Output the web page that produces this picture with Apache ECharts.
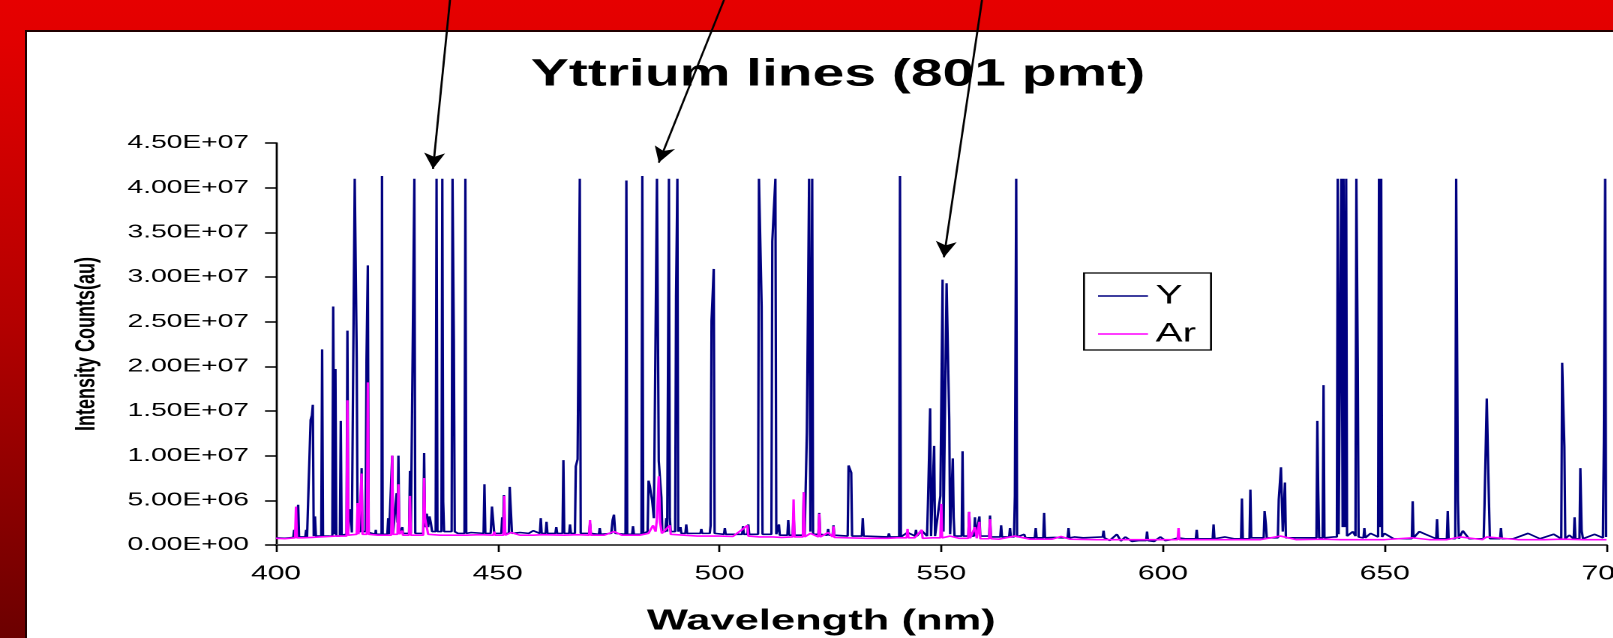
<!DOCTYPE html>
<html>
<head>
<meta charset="utf-8">
<title>Yttrium lines (801 pmt)</title>
<script src="https://cdn.jsdelivr.net/npm/echarts@6/dist/echarts.min.js"></script>
<style>
  html, body { margin: 0; padding: 0; width: 1613px; height: 638px; overflow: hidden; }
  body { position: relative; background: linear-gradient(to bottom, #e60000 0%, #e20000 6%, #b40000 50%, #6c0000 100%); }
  #panel { position: absolute; left: 25px; top: 30px; right: 0; bottom: 0; background: #fff;
           border-top: 2px solid #200000; border-left: 2px solid #200000; }
  /* the slide stretched the figure sideways, so draw narrow and scale it out */
  #chart { position: absolute; left: 0; top: 0; width: 1075.333px; height: 638px;
           transform: scaleX(1.5); transform-origin: 0 0; }
</style>
</head>
<body>
<div id="panel"></div>
<div id="chart"></div>
<script>
var S = 1.5;
var FONT = "'Liberation Sans', Arial, sans-serif";

// wavelength (nm) / intensity (counts, millions)
var yWavelength = [
  400.0, 402.0, 403.9, 404.1, 404.3, 404.8, 405.0, 405.2, 406.6, 406.8, 407.0, 407.6, 407.8, 408.1, 408.3, 408.5,
  408.8, 409.0, 410.2, 410.4, 410.6, 412.7, 412.9, 413.2, 413.4, 413.6, 414.4, 414.6, 414.8, 415.9, 416.1, 416.3,
  416.6, 416.9, 417.1, 417.6, 417.75, 418.2, 418.4, 419.1, 419.3, 419.5, 420.2, 420.4, 420.7, 420.9, 422.4, 422.5,
  422.6, 423.8, 423.9, 424.05, 425.1, 425.3, 425.5, 426.0, 426.2, 426.4, 427.0, 427.2, 427.4, 427.6, 427.8, 428.4,
  428.5, 428.6, 430.0, 430.2, 430.4, 431.0, 431.2, 431.4, 432.0, 433.2, 433.4, 433.6, 434.0, 434.3, 434.6, 434.9,
  435.2, 436.0, 436.2, 436.4, 437.3, 437.5, 437.7, 437.9, 439.6, 439.8, 440.1, 440.3, 441.0, 442.5, 442.7, 442.9,
  444.0, 446.8, 447.0, 447.2, 448.4, 448.7, 449.0, 449.2, 450.8, 451.0, 451.2, 451.4, 451.6, 452.5, 452.7, 453.0,
  453.2, 455.0, 457.0, 458.0, 459.5, 459.7, 459.9, 460.8, 461.0, 461.2, 463.0, 463.2, 463.4, 464.6, 464.8, 465.0,
  466.1, 466.3, 466.5, 467.4, 467.6, 468.0, 468.5, 468.7, 470.6, 470.8, 471.0, 472.8, 473.0, 473.2, 475.6, 475.9,
  476.2, 476.5, 478.8, 479.0, 479.2, 480.3, 480.5, 480.7, 482.4, 482.6, 482.8, 483.8, 484.0, 484.3, 484.5, 484.8,
  485.2, 485.6, 485.9, 486.3, 486.9, 487.1, 487.8, 488.0, 488.2, 488.4, 488.6, 488.8, 489.0, 490.0, 490.2, 490.5,
  490.7, 491.2, 491.4, 492.3, 492.5, 492.7, 495.7, 495.9, 496.1, 497.8, 498.0, 498.2, 498.7, 498.9, 501.0, 501.2,
  501.4, 505.1, 505.3, 505.5, 506.3, 506.5, 506.7, 508.7, 508.9, 509.5, 509.7, 511.7, 511.9, 512.6, 512.8, 513.4,
  513.6, 515.3, 515.5, 515.7, 516.5, 516.7, 516.9, 518.8, 519.0, 519.2, 519.5, 519.7, 520.2, 520.5, 520.9, 521.1,
  522.3, 522.5, 522.7, 524.3, 524.5, 524.7, 525.5, 525.7, 525.9, 528.9, 529.1, 529.7, 529.9, 532.1, 532.3, 532.5,
  538.0, 538.2, 538.4, 540.5, 540.7, 540.9, 542.4, 544.1, 544.3, 544.5, 545.6, 546.8, 547.0, 547.5, 547.7, 548.2,
  548.4, 548.6, 549.8, 550.3, 550.5, 551.0, 551.2, 551.8, 552.0, 552.4, 552.6, 552.8, 553.0, 554.6, 554.8, 555.0,
  556.1, 556.3, 556.5, 557.4, 557.6, 557.8, 558.4, 558.6, 558.8, 560.8, 561.0, 561.2, 563.3, 563.5, 563.7, 565.3,
  565.5, 565.7, 566.4, 566.6, 566.9, 567.1, 568.7, 569.0, 571.1, 571.3, 571.5, 573.0, 573.2, 573.4, 575.5, 577.0,
  578.5, 578.7, 578.9, 580.0, 582.0, 586.4, 586.6, 586.8, 588.0, 589.6, 590.5, 591.5, 593.0, 594.5, 596.2, 596.4,
  596.6, 598.0, 599.4, 600.5, 602.0, 603.5, 605.0, 607.4, 607.6, 607.8, 611.2, 611.4, 611.6, 614.0, 616.0, 617.6,
  617.8, 618.0, 619.5, 619.7, 619.9, 622.7, 622.9, 623.2, 623.4, 625.9, 626.1, 626.6, 627.0, 627.5, 627.7, 630.0,
  634.6, 634.8, 635.0, 635.2, 636.0, 636.2, 636.4, 638.5, 639.2, 639.4, 639.6, 640.0, 640.2, 640.5, 640.7, 641.0,
  641.3, 641.5, 642.8, 643.4, 643.6, 643.9, 644.1, 645.2, 645.4, 645.6, 646.8, 648.5, 648.7, 648.95, 649.2, 649.4,
  649.9, 652.0, 656.1, 656.3, 656.5, 657.8, 659.2, 661.6, 661.8, 662.0, 664.0, 664.2, 664.4, 665.9, 666.1, 666.5,
  666.7, 667.6, 669.0, 672.3, 672.5, 673.0, 673.5, 673.7, 676.0, 676.2, 676.4, 679.0, 682.3, 685.0, 688.1, 689.8,
  690.0, 690.5, 690.7, 691.6, 692.6, 692.8, 693.0, 693.9, 694.1, 694.4, 694.7, 697.3, 699.2, 699.4, 699.7, 699.9
];
var yCounts = [
  0.80, 0.75, 0.85, 1.7, 0.9, 0.9, 4.5, 0.9, 0.9, 1.7, 0.9, 1.0, 14.0, 14.5, 15.7, 1.0,
  3.2, 1.0, 1.0, 21.9, 1.0, 1.0, 26.7, 1.2, 19.7, 1.0, 1.0, 13.9, 1.1, 1.2, 24.0, 1.5,
  4.0, 3.5, 1.4, 1.5, 41.0, 21.0, 1.5, 1.5, 8.6, 1.5, 1.5, 20.6, 31.3, 1.4, 1.2, 1.7,
  1.2, 1.2, 41.3, 1.2, 1.2, 3.0, 1.2, 1.2, 10.0, 1.3, 1.3, 5.8, 2.5, 10.0, 1.3, 1.3,
  2.0, 1.3, 1.3, 8.3, 1.3, 1.3, 41.0, 1.3, 1.4, 1.3, 10.3, 2.0, 3.5, 2.0, 3.2, 2.5,
  1.5, 1.5, 41.0, 1.5, 1.5, 41.0, 4.8, 1.5, 1.5, 41.0, 23.0, 1.5, 1.3, 1.3, 41.0, 1.3,
  1.4, 1.3, 6.8, 1.3, 1.3, 4.3, 4.2, 1.3, 1.3, 3.1, 1.3, 5.6, 1.3, 1.3, 6.5, 6.3,
  1.3, 1.4, 1.3, 1.6, 1.3, 3.0, 1.3, 1.3, 2.6, 1.3, 1.3, 2.0, 1.3, 1.3, 9.5, 1.3,
  1.3, 2.3, 1.3, 1.3, 8.8, 9.6, 41.0, 1.3, 1.3, 2.4, 1.3, 1.2, 1.9, 1.2, 1.3, 2.8,
  3.4, 1.3, 1.2, 40.8, 1.2, 1.2, 2.1, 1.2, 1.2, 41.3, 1.3, 1.5, 7.2, 6.6, 5.9, 5.0,
  3.0, 3.0, 41.0, 9.4, 5.3, 1.5, 1.5, 3.0, 1.5, 1.5, 41.0, 3.0, 1.5, 1.5, 27.8, 41.0,
  1.5, 2.0, 1.3, 1.3, 2.3, 1.3, 1.3, 1.8, 1.3, 1.3, 2.2, 25.1, 30.9, 1.3, 1.2, 1.9,
  1.2, 1.2, 2.1, 1.2, 1.2, 2.3, 1.2, 1.2, 41.0, 26.7, 1.2, 1.2, 34.0, 41.0, 1.2, 2.3,
  1.1, 1.1, 2.8, 1.1, 1.1, 3.5, 1.1, 1.1, 5.9, 1.1, 1.2, 12.6, 41.0, 1.5, 41.0, 1.2,
  1.2, 3.6, 1.2, 1.1, 1.8, 1.1, 1.1, 2.2, 1.1, 1.0, 8.9, 8.1, 1.0, 1.0, 3.0, 1.0,
  0.9, 1.3, 0.9, 0.9, 41.3, 0.9, 1.4, 1.0, 1.7, 1.0, 1.6, 1.0, 4.7, 15.3, 1.0, 1.0,
  11.1, 1.0, 5.5, 29.7, 1.5, 1.5, 29.3, 14.0, 1.2, 1.2, 9.7, 3.1, 1.0, 1.0, 10.5, 1.0,
  1.0, 3.7, 1.0, 1.0, 3.1, 1.0, 1.0, 3.2, 1.0, 1.0, 3.3, 0.9, 0.9, 2.2, 0.9, 0.9,
  1.9, 0.9, 0.9, 5.5, 41.0, 0.9, 1.2, 0.8, 0.8, 1.9, 0.8, 0.8, 3.6, 0.8, 0.85, 0.8,
  0.8, 1.9, 0.8, 0.9, 0.8, 0.9, 1.6, 0.8, 0.5, 1.2, 0.45, 0.9, 0.4, 0.5, 0.5, 1.5,
  0.5, 0.4, 0.9, 0.5, 0.6, 0.8, 0.7, 0.7, 1.7, 0.7, 0.7, 2.3, 0.7, 0.9, 0.7, 0.7,
  5.2, 0.7, 0.7, 6.2, 0.8, 0.8, 3.8, 2.3, 0.8, 0.8, 5.1, 8.7, 1.5, 7.0, 0.8, 0.8,
  0.8, 13.9, 6.0, 0.8, 0.8, 17.9, 0.8, 0.9, 0.9, 41.0, 1.2, 1.2, 41.0, 2.0, 41.0, 2.0,
  41.0, 1.0, 1.5, 1.0, 41.0, 21.0, 0.9, 0.8, 1.9, 0.8, 1.3, 0.9, 41.0, 2.0, 41.0, 0.9,
  1.3, 0.7, 0.7, 4.9, 0.8, 1.5, 1.2, 0.7, 2.9, 0.7, 0.7, 3.8, 0.7, 0.7, 41.0, 5.0,
  0.7, 1.6, 0.7, 0.7, 4.6, 16.4, 4.7, 0.7, 0.7, 1.9, 0.7, 0.7, 1.3, 0.7, 1.2, 0.7,
  20.4, 11.0, 0.7, 1.1, 0.7, 3.1, 0.7, 0.7, 8.6, 1.6, 0.7, 1.2, 0.8, 11.6, 41.0, 0.9
];

var arWavelength = [
  400.0, 402.0, 404.3, 404.5, 404.7, 406.0, 408.0, 410.0, 412.0, 413.5, 415.9, 416.1, 416.3, 418.2, 418.4, 418.6,
  419.1, 419.3, 419.5, 420.5, 420.7, 420.9, 423.0, 425.0, 426.0, 426.2, 426.4, 427.4, 427.6, 427.8, 428.4, 428.5,
  428.6, 430.0, 430.2, 430.4, 433.2, 433.4, 433.6, 434.0, 434.3, 437.0, 440.0, 443.0, 446.0, 449.0, 449.2, 449.4,
  451.3, 451.5, 451.7, 453.0, 455.0, 458.0, 460.0, 465.0, 468.0, 470.6, 470.8, 471.0, 474.0, 476.2, 478.0, 482.0,
  484.0, 485.0, 485.6, 485.9, 486.3, 486.6, 487.0, 488.8, 489.0, 492.0, 495.0, 500.0, 503.0, 505.3, 506.3, 506.5,
  509.0, 512.0, 514.0, 516.5, 516.7, 516.9, 518.8, 519.0, 519.2, 520.5, 522.3, 522.5, 522.7, 524.5, 525.5, 525.7,
  525.9, 529.0, 533.0, 538.0, 540.0, 542.2, 542.4, 542.6, 544.0, 545.6, 545.8, 548.0, 549.8, 550.0, 550.2, 552.0,
  554.0, 556.1, 556.3, 556.5, 557.6, 558.0, 558.6, 558.8, 560.8, 561.0, 561.2, 563.0, 566.6, 570.0, 575.0, 577.0,
  579.0, 585.0, 590.0, 595.0, 600.0, 603.3, 603.5, 603.7, 607.0, 612.0, 618.0, 622.0, 626.5, 630.0, 636.0, 640.0,
  645.0, 650.0, 656.3, 660.0, 664.0, 667.0, 672.0, 673.0, 680.0, 686.0, 690.0, 695.0, 700.0
];
var arCounts = [
  0.75, 0.7, 0.8, 4.3, 0.8, 0.8, 0.85, 0.9, 0.95, 1.0, 1.0, 16.2, 1.1, 1.2, 4.7, 1.2,
  1.2, 8.0, 1.2, 1.2, 18.2, 1.2, 1.1, 1.1, 1.1, 10.0, 1.2, 1.2, 6.8, 1.2, 1.2, 1.6,
  1.1, 1.1, 5.5, 1.1, 1.1, 7.5, 3.0, 2.0, 1.2, 1.1, 1.1, 1.1, 1.15, 1.1, 1.5, 1.1,
  1.1, 5.5, 1.1, 1.4, 1.1, 1.1, 1.15, 1.1, 1.15, 1.1, 2.8, 1.1, 1.1, 1.5, 1.1, 1.1,
  1.3, 2.2, 1.5, 3.0, 7.7, 2.5, 1.3, 2.2, 1.2, 1.1, 1.0, 1.0, 0.95, 1.8, 2.2, 1.0,
  0.9, 0.9, 0.85, 0.9, 5.1, 0.9, 0.9, 5.9, 0.9, 1.3, 0.9, 3.5, 0.9, 1.4, 0.9, 2.1,
  0.85, 0.8, 0.75, 0.75, 0.8, 0.8, 1.8, 0.8, 0.8, 1.7, 0.75, 0.8, 0.8, 4.6, 0.8, 1.0,
  0.75, 0.75, 3.7, 0.75, 2.0, 0.75, 2.6, 0.7, 0.7, 2.9, 0.7, 0.65, 1.0, 0.65, 0.65, 0.95,
  0.65, 0.6, 0.6, 0.6, 0.6, 0.6, 1.9, 0.6, 0.6, 0.6, 0.6, 0.6, 1.0, 0.6, 0.65, 0.6,
  0.6, 0.6, 0.8, 0.6, 0.6, 0.9, 0.6, 0.9, 0.6, 0.6, 0.65, 0.6, 0.6
];

var seriesNames = ['Y', 'Ar'];

// arrows: where they leave the top edge (px) and the line they point at
var arrowTopX = [450, 724, 982];
var arrowWavelength = [435.4, 486.3, 550.6];
var arrowCounts = [42.1, 42.8, 32.2];

function pairs(xs, ys) {
  return xs.map(function (x, i) { return [x, ys[i]]; });
}

// 4.5e7 -> "4.50E+07"
function sci(v) {
  var n = v * 1e6;
  if (n === 0) return '0.00E+00';
  var e = Math.floor(Math.log10(n) + 1e-9);
  var m = n / Math.pow(10, e);
  return m.toFixed(2) + 'E+' + String(e).padStart(2, '0');
}

var arrows = arrowTopX.map(function (x, i) {
  return [{ x: x / S, y: 0 }, { coord: [arrowWavelength[i], arrowCounts[i]] }];
});

var chart = echarts.init(document.getElementById('chart'), null, { renderer: 'canvas', devicePixelRatio: 2 });
chart.setOption({
  animation: false,
  backgroundColor: 'transparent',
  grid: { left: 276 / S, right: 6 / S, top: 143, bottom: 93, containLabel: false, outerBoundsMode: 'none' },
  legend: {
    orient: 'vertical',
    left: 1084 / S,
    top: 273,
    selectedMode: false,
    backgroundColor: '#fff',
    borderColor: '#000',
    borderWidth: 1.3,
    borderRadius: 0,
    padding: [9, 10, 2, 14 / S],
    itemGap: 10,
    itemWidth: 50 / S,
    itemHeight: 1.6,
    textStyle: { fontFamily: FONT, fontSize: 27, color: '#000', lineHeight: 28 },
    data: seriesNames.map(function (n) { return { name: n, icon: 'rect' }; })
  },
  graphic: [{
    type: 'text',
    x: 838 / S,
    y: 75,
    style: {
      text: 'Yttrium lines (801 pmt)',
      fontFamily: FONT, fontWeight: 'bold', fontSize: 38, fill: '#000',
      align: 'center', verticalAlign: 'middle'
    }
  }],
  xAxis: {
    type: 'value',
    min: 400, max: 700, interval: 50,
    name: 'Wavelength (nm)',
    nameLocation: 'middle',
    nameGap: 62,
    nameTextStyle: { fontFamily: FONT, fontWeight: 'bold', fontSize: 29, color: '#000', padding: [0, 160, 0, 0] },
    axisLine: { show: true, onZero: false, lineStyle: { color: '#4d4d4d', width: 2 } },
    axisTick: { show: true, inside: false, length: 7, lineStyle: { color: '#000', width: 1.35 } },
    axisLabel: { show: true, margin: 19, fontFamily: FONT, fontSize: 20, color: '#000', showMaxLabel: true, showMinLabel: true },
    splitLine: { show: false }
  },
  yAxis: {
    type: 'value',
    min: 0, max: 45, interval: 5,
    name: 'Intensity Counts(au)',
    nameLocation: 'middle',
    nameRotate: 90,
    nameGap: 117,
    nameMoveOverlap: false,
    nameTextStyle: { fontFamily: FONT, fontWeight: 'bold', fontSize: 18, color: '#000' },
    axisLine: { show: true, lineStyle: { color: '#000', width: 1.4 } },
    axisTick: { show: true, inside: false, length: 11 / S, lineStyle: { color: '#000', width: 1.5 } },
    axisLabel: { show: true, margin: 18, fontFamily: FONT, fontSize: 18.8, color: '#000', formatter: sci },
    splitLine: { show: false }
  },
  series: [{
    name: 'Y',
    type: 'line',
    data: pairs(yWavelength, yCounts),
    showSymbol: false,
    symbol: 'none',
    clip: false,
    color: '#000080',
    lineStyle: { color: '#000080', width: 1.6 },
    emphasis: { disabled: true },
    z: 2,
    markLine: {
      silent: true,
      symbol: ['none', 'arrow'],
      symbolSize: [10.5, 16],
      label: { show: false },
      emphasis: { disabled: true },
      lineStyle: { color: '#000', width: 1.4, type: 'solid' },
      data: arrows
    }
  }, {
    name: 'Ar',
    type: 'line',
    data: pairs(arWavelength, arCounts),
    showSymbol: false,
    symbol: 'none',
    color: '#ff00ff',
    lineStyle: { color: '#ff00ff', width: 1.6 },
    emphasis: { disabled: true },
    z: 3
  }]
});
</script>
</body>
</html>
